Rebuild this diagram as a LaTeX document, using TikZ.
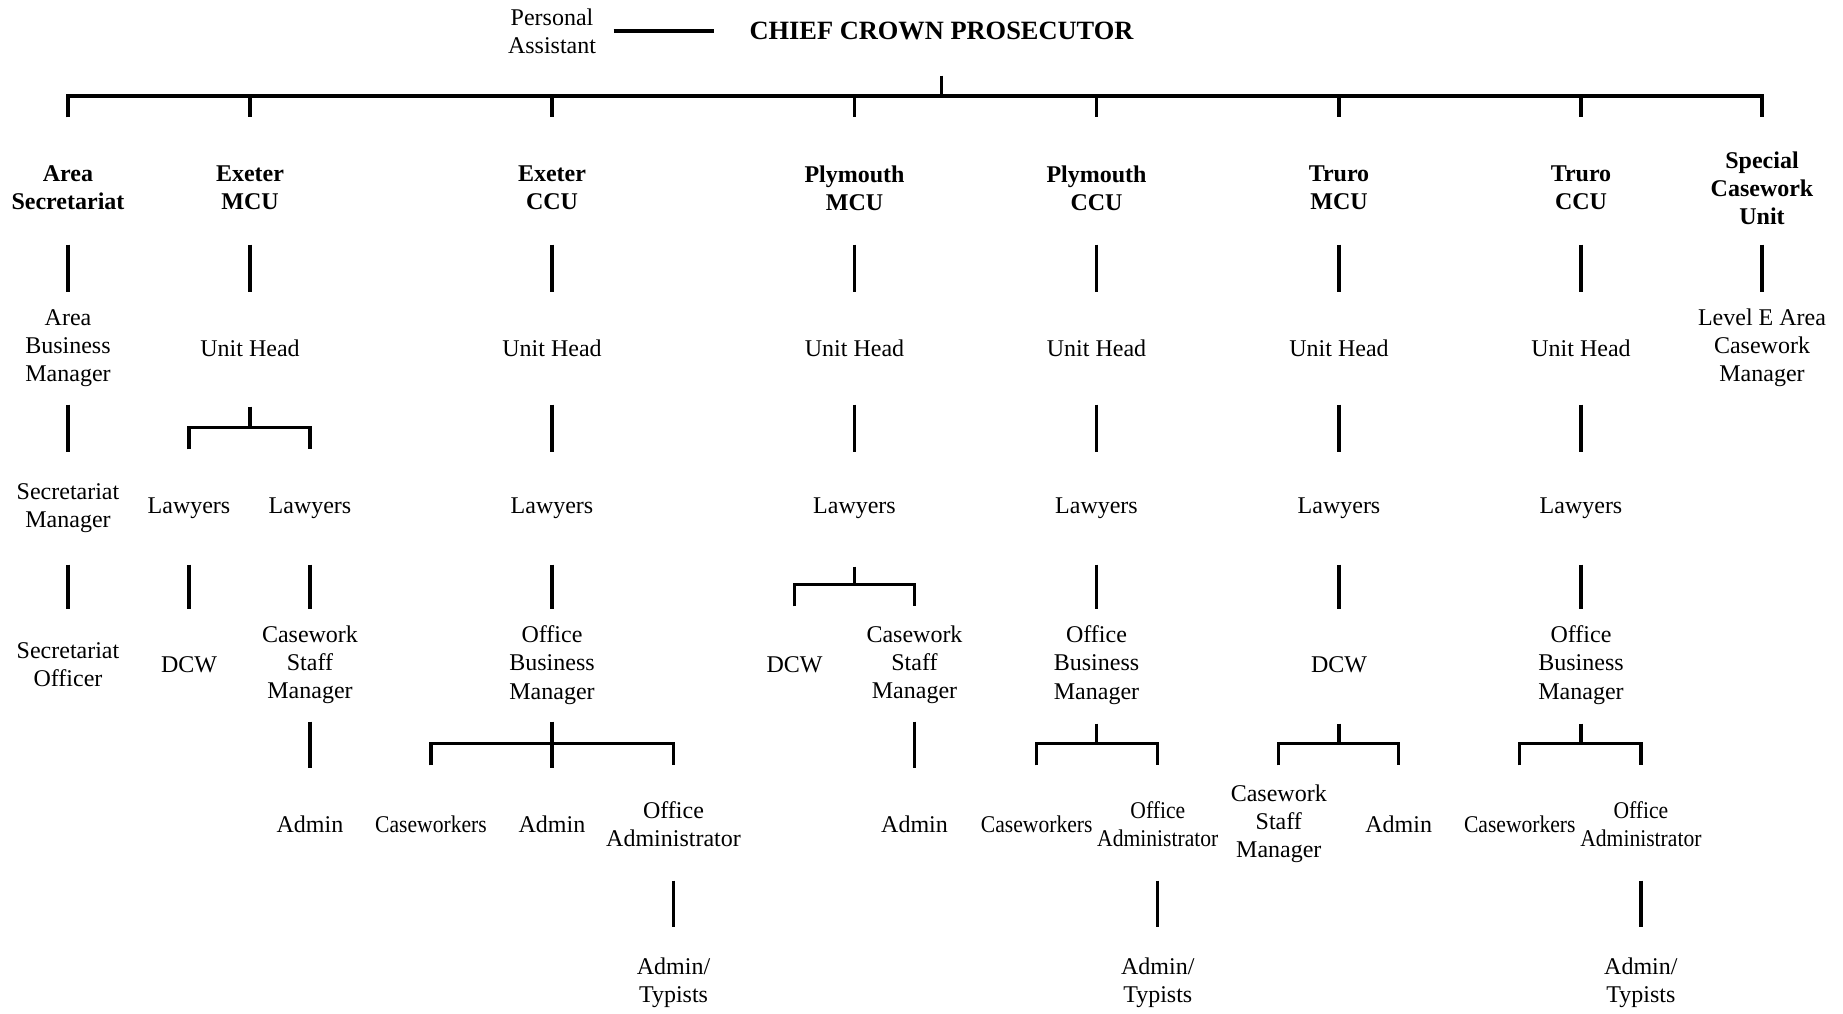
\documentclass[tikz,border=0pt]{standalone}
\usepackage{fontspec}
\setmainfont{Liberation Serif}
\newfontfamily\narrowfont[FakeStretch=0.9]{Liberation Serif}
\begin{document}
\begin{tikzpicture}[x=.5pt,y=-.5pt,line width=1.6pt,
  post/.style={align=center,inner sep=0pt,minimum height=57pt,font=\fontsize{12}{14.1}\selectfont},
  unit/.style={post,font=\fontsize{12}{14.1}\selectfont\bfseries},
  narrow/.style={post,font=\fontsize{12}{14.1}\narrowfont}]
\useasboundingbox (0,0) rectangle (1843,1013);
\node[inner sep=0pt,font=\fontsize{13.2}{15}\selectfont\bfseries] (ccp) at (941.5,31) {CHIEF CROWN PROSECUTOR};
\node[post,minimum height=0pt] (pa) at (552,31) {Personal\\Assistant};
\draw[shorten <=8pt,shorten >=17pt] (pa) -- (ccp);

% units
\node[unit] (as)  at (68,188)     {Area\\Secretariat};
\node[unit] (exm) at (250,188)    {Exeter\\MCU};
\node[unit] (exc) at (552,188)    {Exeter\\CCU};
\node[unit] (plm) at (854.5,188)  {Plymouth\\MCU};
\node[unit] (plc) at (1096.5,188) {Plymouth\\CCU};
\node[unit] (trm) at (1339,188)   {Truro\\MCU};
\node[unit] (trc) at (1581,188)   {Truro\\CCU};
\node[unit] (scu) at (1762,188)   {Special\\Casework\\Unit};
\coordinate (bar) at (ccp |- 0,96);
\draw ([yshift=-17pt]ccp.south) -- (bar);
\draw ([yshift=6pt]as.north) |- (bar) -| ([yshift=6pt]scu.north);
\foreach \u in {exm,exc,plm,plc,trm,trc}
  \draw (bar -| \u) -- ([yshift=6pt]\u.north);

% area secretariat
\node[post] (abm) at (68,348) {Area\\Business\\Manager};
\node[post] (sm)  at (68,508) {Secretariat\\Manager};
\node[post] (so)  at (68,665) {Secretariat\\Officer};

% exeter mcu
\node[post] (exmuh)  at (250,348) {Unit Head};
\node[post] (exmlw1) at (189,508) {Lawyers};
\node[post] (exmlw2) at (310,508) {Lawyers};
\node[post] (exmdcw) at (189,665) {DCW};
\node[post] (exmcsm) at (310,665) {Casework\\Staff\\Manager};
\node[post] (exmad)  at (310,824) {Admin};
\draw (exmlw1.north) -- ++(0,-22) coordinate (exmfork) -| (exmlw2.north);
\draw (exmuh) -- (exmuh |- exmfork);

% exeter ccu
\node[post] (excuh)  at (552,348)   {Unit Head};
\node[post] (exclw)  at (552,508)   {Lawyers};
\node[post] (excobm) at (552,665)   {Office\\Business\\Manager};
\node[narrow] (exccw) at (431,824)  {Caseworkers};
\node[post] (excad)  at (552,824)   {Admin};
\node[post] (excoa)  at (673.5,824) {Office\\Administrator};
\node[post] (excat)  at (673.5,983) {Admin/\\Typists};
\draw (exccw.north) -- ++(0,-22) -| (excoa.north);

% plymouth mcu
\node[post] (plmuh)  at (854.5,348) {Unit Head};
\node[post] (plmlw)  at (854.5,508) {Lawyers};
\node[post] (plmdcw) at (794.6,665) {DCW};
\node[post] (plmcsm) at (914.5,665) {Casework\\Staff\\Manager};
\node[post] (plmad)  at (914.5,824) {Admin};
\draw (plmdcw.north) -- ++(0,-22) coordinate (plmfork) -| (plmcsm.north);
\draw (plmlw) -- (plmlw |- plmfork);

% plymouth ccu
\node[post] (plcuh)  at (1096.5,348) {Unit Head};
\node[post] (plclw)  at (1096.5,508) {Lawyers};
\node[post] (plcobm) at (1096.5,665) {Office\\Business\\Manager};
\node[narrow] (plccw) at (1036.7,824) {Caseworkers};
\node[narrow] (plcoa) at (1157.8,824) {Office\\Administrator};
\node[post] (plcat)  at (1157.8,983) {Admin/\\Typists};
\draw (plccw.north) -- ++(0,-22) coordinate (plcfork) -| (plcoa.north);
\draw (plcobm) -- (plcobm |- plcfork);

% truro mcu
\node[post] (trmuh)  at (1339,348)   {Unit Head};
\node[post] (trmlw)  at (1339,508)   {Lawyers};
\node[post] (trmdcw) at (1339,665)   {DCW};
\node[post] (trmcsm) at (1278.8,824) {Casework\\Staff\\Manager};
\node[post] (trmad)  at (1398.7,824) {Admin};
\draw (trmcsm.north) -- ++(0,-22) coordinate (trmfork) -| (trmad.north);
\draw (trmdcw) -- (trmdcw |- trmfork);

% truro ccu
\node[post] (trcuh)  at (1581,348)   {Unit Head};
\node[post] (trclw)  at (1581,508)   {Lawyers};
\node[post] (trcobm) at (1581,665)   {Office\\Business\\Manager};
\node[narrow] (trccw) at (1519.8,824) {Caseworkers};
\node[narrow] (trcoa) at (1640.9,824) {Office\\Administrator};
\node[post] (trcat)  at (1640.9,983) {Admin/\\Typists};
\draw (trccw.north) -- ++(0,-22) coordinate (trcfork) -| (trcoa.north);
\draw (trcobm) -- (trcobm |- trcfork);

% special casework unit
\node[post] (lecm) at (1762,348) {Level E Area\\Casework\\Manager};

\foreach \a/\b in {as/abm,abm/sm,sm/so,exm/exmuh,exmlw1/exmdcw,exmlw2/exmcsm,exmcsm/exmad,
  exc/excuh,excuh/exclw,exclw/excobm,excobm/excad,excoa/excat,
  plm/plmuh,plmuh/plmlw,plmcsm/plmad,plc/plcuh,plcuh/plclw,plclw/plcobm,plcoa/plcat,
  trm/trmuh,trmuh/trmlw,trmlw/trmdcw,trc/trcuh,trcuh/trclw,trclw/trcobm,trcoa/trcat,scu/lecm}
  \draw[shorten <=-1pt,shorten >=-1.5pt] (\a) -- (\b);
\end{tikzpicture}
\end{document}
